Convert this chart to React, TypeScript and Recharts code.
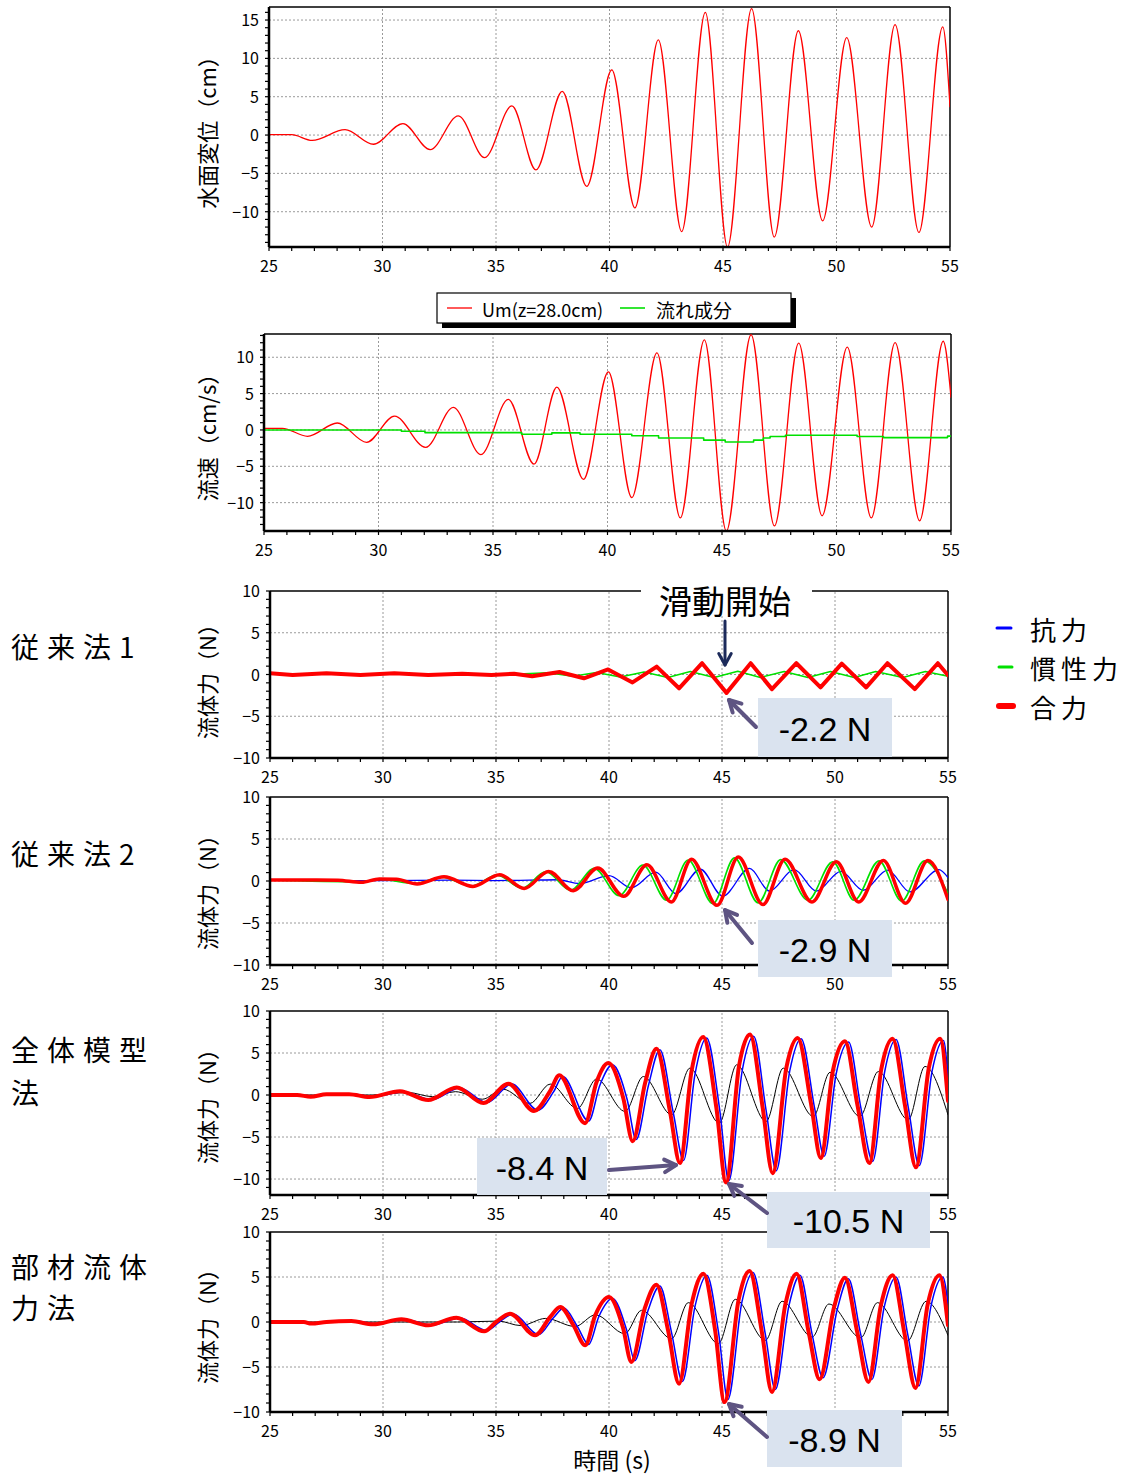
import React from 'react';
import { LineChart, Line, XAxis, YAxis, ReferenceLine } from 'recharts';

type Pt = [number, number];

// ---------- tick values ----------
const X_TICKS = [25,26,27,28,29,30,31,32,33,34,35,36,37,38,39,40,41,42,43,44,45,46,47,48,49,50,51,52,53,54,55];
const X_GRID = [30, 35, 40, 45, 50];

// ---------- panel 1 : water surface (cm) ----------
const WL: Pt[] = [[25,0.05],[26.0,0.05],[26.9,-0.7],[28.35,0.7],[29.6,-1.2],[30.9,1.5],[32.1,-1.9],[33.34,2.5],[34.5,-2.95],[35.7,3.8],[36.76,-4.55],[37.92,5.7],[39.0,-6.7],[40.1,8.5],[41.12,-9.5],[42.15,12.4],[43.18,-12.6],[44.22,16.0],[45.2,-14.6],[46.26,16.5],[47.26,-13.3],[48.32,13.6],[49.39,-11.2],[50.45,12.7],[51.55,-12.0],[52.58,14.4],[53.63,-12.7],[54.68,14.1],[55,3.7]];

// ---------- panel 2 : velocity (cm/s) ----------
const UM: Pt[] = [[25,0.23],[25.8,0.23],[26.9,-0.87],[28.2,0.96],[29.48,-1.7],[30.7,1.9],[32.06,-2.4],[33.27,3.1],[34.47,-3.4],[35.67,4.2],[36.79,-4.7],[37.79,5.9],[38.95,-6.8],[40.04,8.0],[41.06,-9.3],[42.16,10.6],[43.18,-12.1],[44.23,12.4],[45.19,-13.9],[46.27,13.1],[47.29,-13.2],[48.35,11.95],[49.37,-11.8],[50.47,11.4],[51.52,-12.1],[52.56,12.0],[53.63,-12.5],[54.66,12.2],[55,4.5]];
const UFLOW: Pt[] = [[25,0],[31.0,0],[31.0,-0.18],[32.03,-0.18],[32.03,-0.37],[36.25,-0.37],[36.25,-0.6],[37.57,-0.6],[37.57,-0.4],[38.8,-0.4],[38.8,-0.6],[41.06,-0.6],[41.06,-0.8],[42.23,-0.8],[42.23,-1.1],[44.2,-1.1],[44.2,-1.4],[45.14,-1.4],[45.14,-1.65],[46.38,-1.65],[46.38,-1.4],[46.8,-1.4],[46.8,-1.1],[47.1,-1.1],[47.1,-0.9],[47.77,-0.9],[47.77,-0.73],[50.9,-0.73],[50.9,-0.9],[52.05,-0.9],[52.05,-1.05],[54.85,-1.05],[54.85,-0.85],[55,-0.85]];

// ---------- panel 3 : 従来法1 (N) ----------
const F1_TOTAL: Pt[] = [[25,0.15],[26,-0.05],[27.5,0.15],[29,-0.05],[30.5,0.15],[32,-0.05],[33.5,0.1],[34.8,-0.05],[35.8,0.1],[36.6,-0.2],[37.81,0.3],[38.89,-0.45],[39.96,0.6],[41.04,-0.95],[42.11,0.95],[43.1,-1.65],[44.12,1.35],[45.2,-2.2],[46.27,1.35],[47.21,-1.75],[48.29,1.35],[49.36,-1.55],[50.3,1.3],[51.38,-1.55],[52.32,1.35],[53.53,-1.75],[54.55,1.35],[55,-0.1]];
const F1_DRAG: Pt[] = [[25,0.15],[26,-0.05],[27.5,0.15],[29,-0.05],[30.5,0.15],[32,-0.05],[33.5,0.1],[34.8,-0.05],[35.8,0.1],[36.6,-0.2],[37.81,0.25],[38.89,-0.4],[39.96,0.55],[41.04,-0.9],[42.11,0.9],[43.1,-1.6],[44.12,1.3],[45.2,-2.1],[46.27,1.3],[47.21,-1.7],[48.29,1.3],[49.36,-1.5],[50.3,1.25],[51.38,-1.5],[52.32,1.3],[53.53,-1.7],[54.55,1.3],[55,-0.1]];
const F1_INERTIA: Pt[] = [[25,0.05],[36,0.05],[37.3,0.2],[38.4,-0.2],[39.45,0.25],[40.5,-0.3],[41.55,0.3],[42.6,-0.35],[43.6,0.35],[44.65,-0.35],[45.7,0.4],[46.7,-0.35],[47.75,0.35],[48.8,-0.35],[49.8,0.35],[50.85,-0.35],[51.8,0.35],[53.0,-0.35],[54.0,0.35],[55,-0.2]];

// ---------- panel 4 : 従来法2 (N) ----------
const F2_TOTAL: Pt[] = [[25,0.12],[27.07,0.12],[28,0.1],[29.05,-0.16],[29.84,0.24],[30.6,0.2],[31.51,-0.35],[32.7,0.5],[33.98,-0.64],[35.16,0.75],[36.25,-0.88],[37.33,1.14],[38.42,-1.15],[39.5,1.54],[40.65,-1.83],[41.68,1.93],[42.76,-2.5],[43.65,2.6],[44.78,-2.9],[45.72,2.85],[46.81,-2.8],[47.79,2.6],[48.98,-2.5],[50.06,2.3],[51.05,-2.5],[52.14,2.45],[53.12,-2.65],[54.11,2.45],[55,-2.2]];
const F2_INERTIA: Pt[] = [[25,0.12],[29.05,-0.1],[29.84,0.2],[31.45,-0.3],[32.6,0.45],[33.9,-0.6],[35.05,0.7],[36.15,-0.85],[37.2,1.1],[38.3,-1.1],[39.35,1.5],[40.45,-1.75],[41.5,1.9],[42.55,-2.3],[43.5,2.5],[44.6,-2.7],[45.55,2.75],[46.6,-2.6],[47.6,2.55],[48.8,-2.3],[49.9,2.3],[50.85,-2.3],[51.95,2.4],[52.95,-2.4],[53.95,2.4],[55,-1.5]];
const F2_DRAG: Pt[] = [[25,0.1],[30,0.05],[33,0.1],[35,0.05],[36.5,0.1],[37.7,0.15],[38.7,-0.3],[40.0,0.65],[40.99,-0.8],[42.07,1.05],[42.96,-1.5],[44.04,1.4],[45.03,-1.8],[46.22,1.5],[47.1,-1.2],[48.19,1.35],[49.18,-1.2],[50.26,1.15],[51.25,-1.1],[52.33,1.3],[53.32,-1.3],[54.6,1.35],[55,0.4]];

// ---------- panel 5 : 全体模型法 (N) ----------
const F3_TOTAL: Pt[] = [[25,0],[26.2,0],[26.8,-0.2],[27.5,0.1],[28.5,0.1],[29.4,-0.25],[30.75,0.45],[32.0,-0.6],[33.26,0.9],[34.44,-0.95],[35.55,1.35],[36.68,-1.9],[37.4,0.5],[37.8,2.34],[38.94,-3.35],[39.45,1.55],[39.97,3.8],[40.63,-0.35],[41.05,-5.5],[41.6,1.45],[42.1,5.5],[42.7,-2.0],[43.14,-8.1],[43.65,2.8],[44.17,6.9],[44.75,-1.5],[45.18,-10.4],[45.75,3.4],[46.24,7.2],[46.8,-1.5],[47.24,-9.3],[47.85,3.3],[48.35,6.8],[48.95,-1.2],[49.37,-7.5],[49.9,2.8],[50.44,6.4],[51.0,-1.3],[51.52,-8.1],[52.05,3.1],[52.55,6.7],[53.1,-1.3],[53.58,-8.6],[54.15,3.2],[54.65,6.7],[55,-0.7]];
const F3_DRAG: Pt[] = [[25,0],[26.3,0],[26.9,-0.15],[27.6,0.1],[28.7,0.1],[29.55,-0.2],[30.9,0.4],[32.15,-0.55],[33.4,0.85],[34.6,-0.9],[35.7,1.3],[36.85,-1.8],[37.55,0.4],[37.95,2.2],[39.1,-3.1],[39.6,1.2],[40.15,3.6],[40.8,-0.5],[41.2,-5.3],[41.75,1.2],[42.25,5.4],[42.85,-2.2],[43.3,-7.8],[43.8,2.4],[44.32,6.8],[44.9,-1.8],[45.3,-10.2],[45.9,3.0],[46.4,7.0],[46.95,-1.8],[47.4,-9.0],[48.0,2.9],[48.5,6.7],[49.1,-1.6],[49.52,-7.3],[50.05,2.5],[50.6,6.3],[51.15,-1.6],[51.67,-7.9],[52.2,2.8],[52.7,6.6],[53.25,-1.6],[53.73,-8.4],[54.3,2.9],[54.8,6.5],[55,2.0]];
const F3_INERTIA: Pt[] = [[25,0],[29.5,0],[31.1,0.3],[32.2,-0.2],[33.2,0.4],[34.4,-0.5],[35.3,0.7],[36.5,-1.0],[37.4,1.3],[38.6,-1.6],[39.45,1.9],[40.71,-1.95],[41.52,2.2],[42.77,-2.35],[43.58,3.2],[44.88,-3.35],[45.65,3.6],[46.95,-3.15],[47.71,3.2],[49.04,-2.55],[49.78,2.7],[51.1,-2.55],[51.92,2.8],[53.24,-2.95],[53.98,3.4],[55,-2.35]];

// ---------- panel 6 : 部材流体力法 (N) ----------
const F4_TOTAL: Pt[] = [[25,0],[26.5,0],[26.82,-0.18],[27.5,0],[28.6,0.1],[29.56,-0.26],[30.81,0.3],[32.0,-0.37],[33.25,0.48],[34.48,-1.04],[35.0,0.0],[35.62,0.93],[36.73,-1.48],[37.4,0.56],[37.84,1.67],[38.43,-0.37],[38.95,-2.59],[39.39,0.74],[40.0,2.78],[40.62,-0.63],[40.99,-4.44],[41.58,1.5],[42.1,4.15],[42.62,-1.0],[43.1,-6.85],[43.66,2.04],[44.18,5.37],[44.7,-1.0],[45.11,-8.9],[45.73,2.4],[46.22,5.67],[46.77,-1.2],[47.21,-7.78],[47.81,2.04],[48.3,5.37],[48.84,-1.2],[49.32,-6.37],[49.96,1.67],[50.44,4.93],[50.99,-1.2],[51.48,-6.67],[52.03,1.85],[52.55,5.2],[53.07,-1.2],[53.56,-7.33],[54.1,1.93],[54.62,5.2],[55,-0.37]];
const F4_DRAG: Pt[] = [[25,0],[26.6,0],[26.95,-0.15],[27.6,0],[28.75,0.1],[29.7,-0.2],[30.95,0.28],[32.15,-0.35],[33.4,0.45],[34.6,-0.95],[35.15,0],[35.77,0.9],[36.88,-1.4],[37.55,0.5],[38.0,1.55],[38.6,-0.5],[39.1,-2.5],[39.55,0.6],[40.15,2.6],[40.77,-0.8],[41.14,-4.3],[41.73,1.3],[42.25,4.0],[42.77,-1.2],[43.25,-6.6],[43.81,1.8],[44.33,5.2],[44.85,-1.2],[45.26,-8.6],[45.88,2.2],[46.37,5.5],[46.92,-1.4],[47.36,-7.5],[47.96,1.8],[48.45,5.2],[48.99,-1.4],[49.47,-6.2],[50.11,1.5],[50.59,4.8],[51.14,-1.4],[51.63,-6.4],[52.18,1.7],[52.7,5.0],[53.22,-1.4],[53.71,-7.1],[54.25,1.8],[54.77,5.0],[55,2.0]];
const F4_INERTIA: Pt[] = [[25,0],[33.3,0],[35.1,0.1],[36.1,-0.4],[37.2,0.4],[38.5,-0.5],[39.4,0.8],[40.7,-1.3],[41.44,1.3],[42.77,-1.85],[43.51,2.15],[44.84,-2.4],[45.59,2.52],[46.92,-2.04],[47.66,2.3],[48.99,-1.67],[49.73,2.0],[51.14,-1.75],[51.88,2.15],[53.21,-2.1],[54.03,2.3],[55,-1.48]];

// ---------- styling ----------
const FONT = '"Noto Sans CJK JP", "Noto Sans", sans-serif';
const NUM_FONT = '"Liberation Sans", Arial, sans-serif';
const RED = '#ff0000';
const GREEN = '#00e000';
const BLUE = '#0000ff';
const BOX = '#dae3ef';
const ARROW = '#5e5482';

const fmt = (v: number) => (v < 0 ? '\u2212' + Math.abs(v) : String(v));
const toData = (a: Pt[]) => a.map(([t, v]) => ({ t, v }));
const range = (a: number, b: number) => { const r: number[] = []; for (let i = a; i <= b; i++) r.push(i); return r; };

type Series = { pts: Pt[]; color: string; w: number; type: 'monotone' | 'linear' };
type PanelProps = {
  left: number; top: number; right: number; bottom: number;
  yMin: number; yMax: number; yGrid: number[]; series: Series[]; hideX?: number[];
};

const XTick = (props: any) => {
  const { x, y, payload, hide } = props;
  const v = payload.value;
  if (v % 5 !== 0 || (hide && hide.includes(v))) return <g />;
  return (
    <text x={x} y={y + 19} textAnchor="middle" fontSize={16} fontFamily={FONT} fill="#000">{v}</text>
  );
};
const YTick = (props: any) => {
  const { x, y, payload } = props;
  const v = payload.value;
  if (v % 5 !== 0) return <g />;
  return (
    <text x={x - 4} y={y + 6} textAnchor="end" fontSize={16} fontFamily={FONT} fill="#000">{fmt(v)}</text>
  );
};

function Panel({ left, top, right, bottom, yMin, yMax, yGrid, series, hideX }: PanelProps) {
  const YW = 70, MT = 20, MR = 14, XH = 34;
  const width = right - left + YW + MR;
  const height = bottom - top + MT + XH;
  const yTicks = range(Math.ceil(yMin), Math.floor(yMax));
  return (
    <div style={{ position: 'absolute', left: left - YW, top: top - MT }}>
      <LineChart width={width} height={height} margin={{ top: MT, right: MR, left: 0, bottom: 0 }}>
        <XAxis type="number" dataKey="t" domain={[25, 55]} ticks={X_TICKS} interval={0} allowDataOverflow
          height={XH} axisLine={{ stroke: '#000', strokeWidth: 2.5 }} tickLine={{ stroke: '#000', strokeWidth: 1.2 }}
          tickSize={4} tick={<XTick hide={hideX || []} />} />
        <YAxis type="number" domain={[yMin, yMax]} ticks={yTicks} interval={0} allowDataOverflow
          width={YW} axisLine={{ stroke: '#000', strokeWidth: 2.5 }} tickLine={{ stroke: '#000', strokeWidth: 1.2 }}
          tickSize={4} tick={<YTick />} />
        {X_GRID.map((g) => (
          <ReferenceLine key={'x' + g} x={g} stroke="#9a9a9a" strokeDasharray="2 2" strokeWidth={1} />
        ))}
        {yGrid.map((g) => (
          <ReferenceLine key={'y' + g} y={g} stroke="#9a9a9a" strokeDasharray="2 2" strokeWidth={1} />
        ))}
        <ReferenceLine x={55} stroke="#000" strokeWidth={1.5} />
        <ReferenceLine y={yMax} stroke="#000" strokeWidth={1.5} />
        {series.map((s, i) => (
          <Line key={i} data={toData(s.pts)} dataKey="v" type={s.type} stroke={s.color} strokeWidth={s.w}
            dot={false} isAnimationActive={false} strokeLinejoin="round" strokeLinecap="round" />
        ))}
      </LineChart>
    </div>
  );
}

const Arrow = ({ x1, y1, x2, y2, color, w }: { x1: number; y1: number; x2: number; y2: number; color: string; w: number }) => {
  const ang = Math.atan2(y2 - y1, x2 - x1);
  const L = 13, A = 0.5;
  const ax = x2 - L * Math.cos(ang - A), ay = y2 - L * Math.sin(ang - A);
  const bx = x2 - L * Math.cos(ang + A), by = y2 - L * Math.sin(ang + A);
  return (
    <g stroke={color} strokeWidth={w} fill="none" strokeLinecap="round" strokeLinejoin="round">
      <line x1={x1} y1={y1} x2={x2} y2={y2} />
      <polyline points={`${ax},${ay} ${x2},${y2} ${bx},${by}`} />
    </g>
  );
};

const ValueBox = ({ x, y, w, h, label }: { x: number; y: number; w: number; h: number; label: string }) => (
  <g>
    <rect x={x} y={y} width={w} height={h} fill={BOX} />
    <text x={x + w / 2} y={y + h / 2 + 1} textAnchor="middle" dominantBaseline="central" fontSize={34}
      fontFamily={NUM_FONT} fill="#000">{label}</text>
  </g>
);

export default function App() {
  return (
    <div style={{ position: 'absolute', left: 0, top: 0, width: 1132, height: 1476, background: '#fff', fontFamily: FONT }}>
      <Panel left={269} top={7} right={950} bottom={247} yMin={-14.6} yMax={16.7}
        yGrid={[-10, -5, 0, 5, 10, 15]}
        series={[{ pts: WL, color: RED, w: 1.3, type: 'monotone' }]} />
      <Panel left={264} top={334} right={951} bottom={531} yMin={-13.9} yMax={13.2}
        yGrid={[-10, -5, 0, 5, 10]}
        series={[{ pts: UM, color: RED, w: 1.3, type: 'monotone' }, { pts: UFLOW, color: GREEN, w: 1.6, type: 'linear' }]} />
      <Panel left={270} top={591} right={948} bottom={758} yMin={-10} yMax={10}
        yGrid={[-5, 0, 5]}
        series={[
          { pts: F1_DRAG, color: BLUE, w: 1.5, type: 'linear' },
          { pts: F1_INERTIA, color: GREEN, w: 1.5, type: 'linear' },
          { pts: F1_TOTAL, color: RED, w: 4, type: 'linear' },
        ]} />
      <Panel left={270} top={797} right={948} bottom={965} yMin={-10} yMax={10}
        yGrid={[-5, 0, 5]}
        series={[
          { pts: F2_DRAG, color: BLUE, w: 1.3, type: 'monotone' },
          { pts: F2_INERTIA, color: GREEN, w: 1.6, type: 'monotone' },
          { pts: F2_TOTAL, color: RED, w: 3.5, type: 'monotone' },
        ]} />
      <Panel left={270} top={1011} right={948} bottom={1195} yMin={-11.9} yMax={10}
        yGrid={[-10, -5, 0, 5]} hideX={[50]}
        series={[
          { pts: F3_INERTIA, color: '#000', w: 1, type: 'monotone' },
          { pts: F3_DRAG, color: BLUE, w: 1.5, type: 'monotone' },
          { pts: F3_TOTAL, color: RED, w: 4, type: 'monotone' },
        ]} />
      <Panel left={270} top={1232} right={948} bottom={1412} yMin={-10} yMax={10}
        yGrid={[-5, 0, 5]} hideX={[50]}
        series={[
          { pts: F4_INERTIA, color: '#000', w: 1, type: 'monotone' },
          { pts: F4_DRAG, color: BLUE, w: 1.5, type: 'monotone' },
          { pts: F4_TOTAL, color: RED, w: 4, type: 'monotone' },
        ]} />

      <svg width={1132} height={1476} style={{ position: 'absolute', left: 0, top: 0, pointerEvents: 'none' }}
        fontFamily={FONT}>
        {/* axis titles */}
        <text transform="translate(206,127) rotate(-90)" textAnchor="middle" dominantBaseline="central" fontSize={22}>水面変位（cm）</text>
        <text transform="translate(206,432) rotate(-90)" textAnchor="middle" dominantBaseline="central" fontSize={22}>流速（cm/s）</text>
        <text transform="translate(206,676) rotate(-90)" textAnchor="middle" dominantBaseline="central" fontSize={22}>流体力（N）</text>
        <text transform="translate(206,887) rotate(-90)" textAnchor="middle" dominantBaseline="central" fontSize={22}>流体力（N）</text>
        <text transform="translate(206,1101) rotate(-90)" textAnchor="middle" dominantBaseline="central" fontSize={22}>流体力（N）</text>
        <text transform="translate(206,1321) rotate(-90)" textAnchor="middle" dominantBaseline="central" fontSize={22}>流体力（N）</text>
        <text x={612} y={1459} textAnchor="middle" dominantBaseline="central" fontSize={23}>時間 (s)</text>

        {/* method labels */}
        <g fontSize={28} letterSpacing={8} fill="#000">
          <text x={11} y={646} dominantBaseline="central">従来法1</text>
          <text x={11} y={853} dominantBaseline="central">従来法2</text>
          <text x={11} y={1049} dominantBaseline="central">全体模型</text>
          <text x={11} y={1092} dominantBaseline="central">法</text>
          <text x={11} y={1266} dominantBaseline="central">部材流体</text>
          <text x={11} y={1307} dominantBaseline="central">力法</text>
        </g>

        {/* force legend */}
        <line x1={997} y1={628} x2={1011} y2={628} stroke={BLUE} strokeWidth={3} strokeLinecap="round" />
        <line x1={999} y1={667} x2={1012} y2={667} stroke={GREEN} strokeWidth={3} strokeLinecap="round" />
        <line x1={999} y1={706} x2={1013} y2={706} stroke={RED} strokeWidth={6} strokeLinecap="round" />
        <g fontSize={26} letterSpacing={5}>
          <text x={1030} y={628} dominantBaseline="central">抗力</text>
          <text x={1030} y={667} dominantBaseline="central">慣性力</text>
          <text x={1030} y={706} dominantBaseline="central">合力</text>
        </g>

        {/* velocity legend */}
        <rect x={442} y={298} width={354} height={30} fill="#000" />
        <rect x={437} y={293} width={354} height={30} fill="#fff" stroke="#000" strokeWidth={1.2} />
        <line x1={447} y1={308} x2={472} y2={308} stroke={RED} strokeWidth={1.3} />
        <text x={482} y={309} dominantBaseline="central" fontSize={18}>Um(z=28.0cm)</text>
        <line x1={620} y1={308} x2={645} y2={308} stroke={GREEN} strokeWidth={1.6} />
        <text x={656} y={309} dominantBaseline="central" fontSize={19}>流れ成分</text>

        {/* sliding start annotation */}
        <rect x={641} y={584} width={171} height={30} fill="#fff" />
        <text x={725} y={600} textAnchor="middle" dominantBaseline="central" fontSize={33}>滑動開始</text>
        <Arrow x1={725} y1={621} x2={725} y2={665} color="#1c2a5a" w={3} />

        {/* value boxes */}
        <ValueBox x={758} y={698} w={134} h={59} label="-2.2 N" />
        <Arrow x1={756} y1={727} x2={729} y2={700} color={ARROW} w={4} />
        <ValueBox x={758} y={920} w={134} h={57} label="-2.9 N" />
        <Arrow x1={752} y1={943} x2={725} y2={910} color={ARROW} w={4} />
        <ValueBox x={477} y={1138} w={130} h={57} label="-8.4 N" />
        <Arrow x1={609} y1={1170} x2={676} y2={1165} color={ARROW} w={4} />
        <ValueBox x={767} y={1192} w={163} h={56} label="-10.5 N" />
        <Arrow x1={767} y1={1213} x2={729} y2={1184} color={ARROW} w={4} />
        <ValueBox x={767} y={1410} w={135} h={57} label="-8.9 N" />
        <Arrow x1={767} y1={1437} x2={729} y2={1404} color={ARROW} w={4} />
      </svg>
    </div>
  );
}
